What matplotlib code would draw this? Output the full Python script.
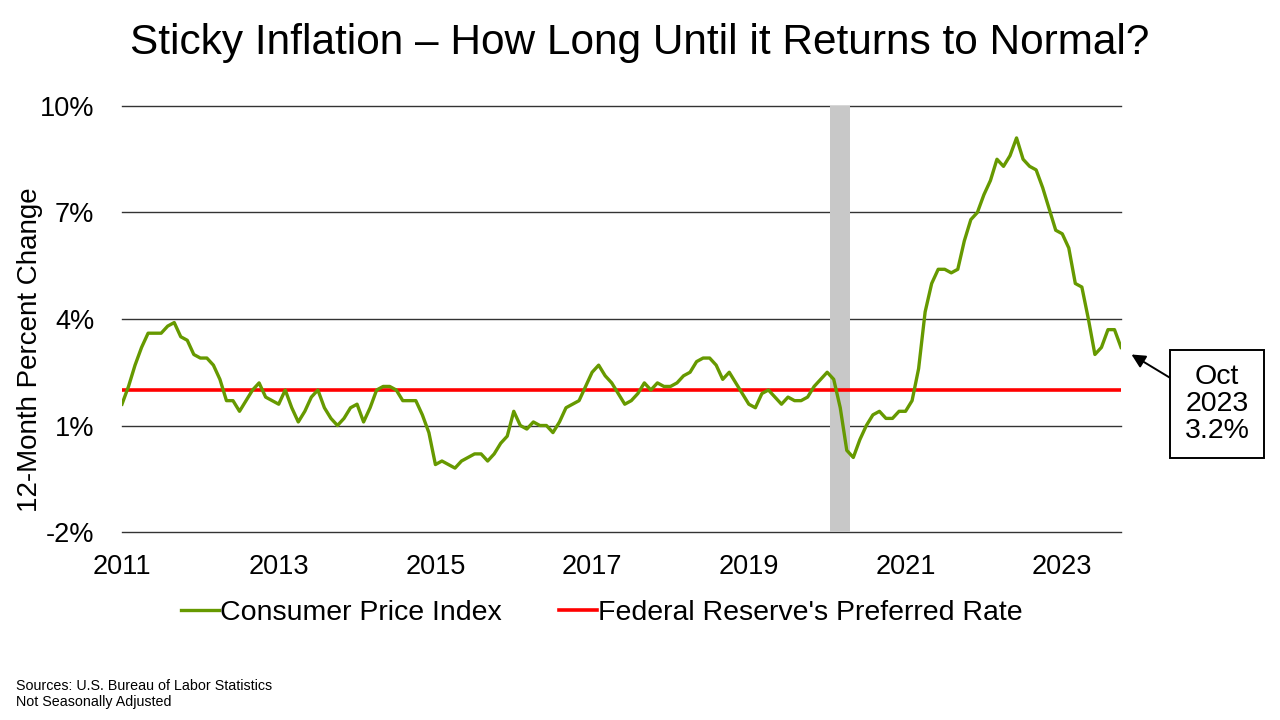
#!/usr/bin/env python3
"""Sticky inflation chart: CPI 12-month percent change vs. the Fed's 2% target."""

import numpy as np
import matplotlib
matplotlib.use("Agg")
import matplotlib.pyplot as plt

plt.rcParams['font.family'] = ['Liberation Sans', 'DejaVu Sans']

#--- DATA -----------------------------------------------------------------#

# CPI 12-month percent change, monthly Jan 2011 .. Oct 2023
cpi = [
    1.6, 2.1, 2.7, 3.2, 3.6, 3.6, 3.6, 3.8, 3.9, 3.5, 3.4, 3.0,   # 2011
    2.9, 2.9, 2.7, 2.3, 1.7, 1.7, 1.4, 1.7, 2.0, 2.2, 1.8, 1.7,   # 2012
    1.6, 2.0, 1.5, 1.1, 1.4, 1.8, 2.0, 1.5, 1.2, 1.0, 1.2, 1.5,   # 2013
    1.6, 1.1, 1.5, 2.0, 2.1, 2.1, 2.0, 1.7, 1.7, 1.7, 1.3, 0.8,   # 2014
    -0.1, 0.0, -0.1, -0.2, 0.0, 0.1, 0.2, 0.2, 0.0, 0.2, 0.5, 0.7,  # 2015
    1.4, 1.0, 0.9, 1.1, 1.0, 1.0, 0.8, 1.1, 1.5, 1.6, 1.7, 2.1,   # 2016
    2.5, 2.7, 2.4, 2.2, 1.9, 1.6, 1.7, 1.9, 2.2, 2.0, 2.2, 2.1,   # 2017
    2.1, 2.2, 2.4, 2.5, 2.8, 2.9, 2.9, 2.7, 2.3, 2.5, 2.2, 1.9,   # 2018
    1.6, 1.5, 1.9, 2.0, 1.8, 1.6, 1.8, 1.7, 1.7, 1.8, 2.1, 2.3,   # 2019
    2.5, 2.3, 1.5, 0.3, 0.1, 0.6, 1.0, 1.3, 1.4, 1.2, 1.2, 1.4,   # 2020
    1.4, 1.7, 2.6, 4.2, 5.0, 5.4, 5.4, 5.3, 5.4, 6.2, 6.8, 7.0,   # 2021
    7.5, 7.9, 8.5, 8.3, 8.6, 9.1, 8.5, 8.3, 8.2, 7.7, 7.1, 6.5,   # 2022
    6.4, 6.0, 5.0, 4.9, 4.0, 3.0, 3.2, 3.7, 3.7, 3.2,             # 2023
]
fed_target = 2.0

year_labels = ['2011', '2013', '2015', '2017', '2019', '2021', '2023']
y_ticks = [-2, 1, 4, 7, 10]

# Recession shading (month index, Feb-Apr 2020)
recession = (108.4, 111.5)

#--- PLOT -----------------------------------------------------------------#

x = np.arange(len(cpi))
green = '#669900'

fig = plt.figure(figsize=(12.8, 7.2), dpi=100)
ax = fig.add_axes([0.0953, 0.2611, 0.7805, 0.5917])

ax.axvspan(recession[0], recession[1], color='#c8c8c8', lw=0, zorder=1)
for yv in y_ticks:
    ax.axhline(yv, color='#333333', lw=1.0, zorder=0, clip_on=False)

ax.plot(x, cpi, color=green, lw=2.4, zorder=3, label='Consumer Price Index')
ax.plot([x[0], x[-1]], [fed_target, fed_target], color='#ff0000', lw=2.6,
        zorder=2, label="Federal Reserve's Preferred Rate")

ax.set_xlim(0, len(cpi) - 1)
ax.set_ylim(-2, 10)
ax.set_xticks(np.arange(len(year_labels)) * 24)
ax.set_xticklabels(year_labels)
ax.set_yticks(y_ticks)
ax.set_yticklabels([f'{v}%' for v in y_ticks])
ax.tick_params(axis='both', length=0, labelsize=19.5)
ax.tick_params(axis='y', pad=20)
ax.tick_params(axis='x', pad=16)
for s in ax.spines.values():
    s.set_visible(False)

fig.text(30 / 1280, 1 - 350 / 720, '12-Month Percent Change', rotation=90,
         ha='center', va='center', fontsize=20)

fig.suptitle('Sticky Inflation \u2013 How Long Until it Returns to Normal?',
             y=1 - 43 / 720, va='center', fontsize=30.5)

# Callout for the latest reading
ax.annotate(f'Oct\n2023\n{cpi[-1]}%', xy=(len(cpi) + 0.6, 3.0),
            xytext=(167.7, 1.6), ha='center', va='center', fontsize=20.5,
            linespacing=1.05, annotation_clip=False,
            bbox=dict(boxstyle='square,pad=0.5', fc='white', ec='black', lw=1.4),
            arrowprops=dict(arrowstyle='-|>', color='black', lw=1.4,
                            relpos=(0, 0.72), shrinkA=0, shrinkB=0))

leg = fig.legend(loc='center', bbox_to_anchor=(0.47, 1 - 613 / 720), ncol=2,
                 frameon=False, fontsize=20.5, handlelength=1.33,
                 handletextpad=0.05, columnspacing=2.0)

fig.text(16 / 1280, 1 - 686 / 720, 'Sources: U.S. Bureau of Labor Statistics',
         fontsize=10.3, va='center')
fig.text(16 / 1280, 1 - 702 / 720, 'Not Seasonally Adjusted',
         fontsize=10.3, va='center')

fig.savefig('out.png', dpi=100)
